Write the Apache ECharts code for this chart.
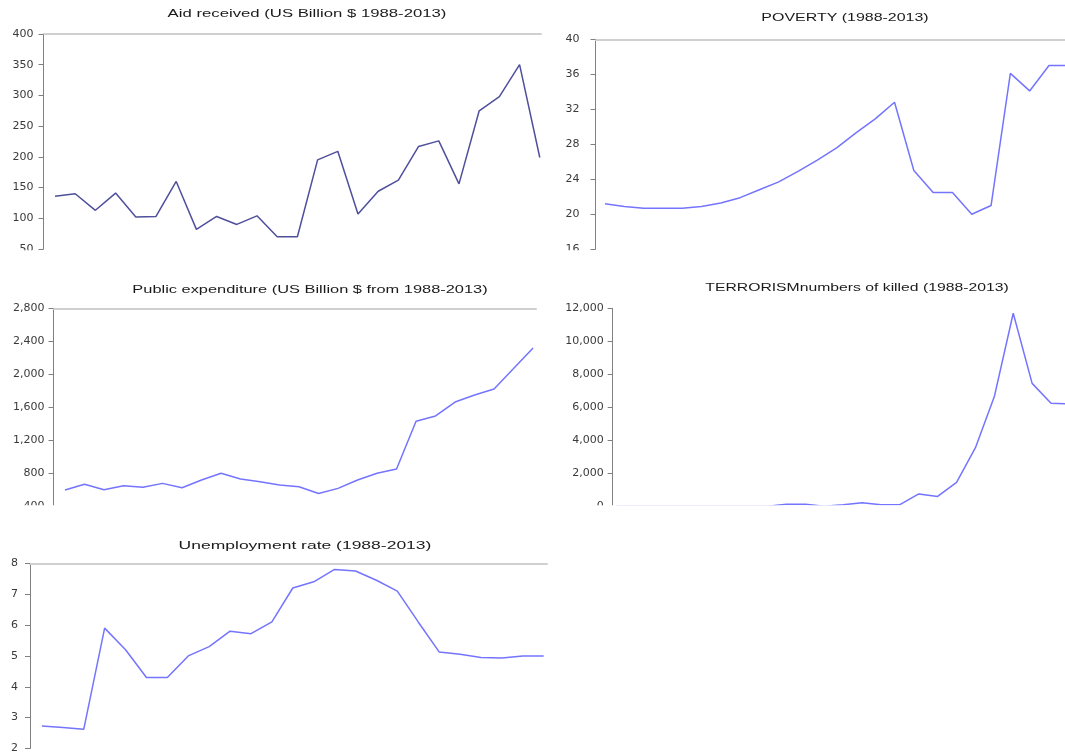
<!DOCTYPE html>
<html><head><meta charset="utf-8">
<script src="https://cdn.jsdelivr.net/npm/echarts@6/dist/echarts.min.js"></script>
<style>html,body{margin:0;padding:0;background:#fff}#c{width:1065px;height:754px}</style>
</head><body><div id="c"></div>
<script>
// ---- data ----
const years = [1988,1989,1990,1991,1992,1993,1994,1995,1996,1997,1998,1999,2000,2001,2002,2003,2004,2005,2006,2007,2008,2009,2010,2011,2012,2013];
const aidReceived = [136,140,113,141,102,103,160,82,103,90,104,70,70,195,209,107,144,162,217,226,156,275,298,350,199,null];
const poverty = [21.2,20.9,20.7,20.7,20.7,20.9,21.3,21.9,22.8,23.7,24.9,26.2,27.6,29.3,30.9,32.8,25.0,22.5,22.5,20.0,21.0,36.1,34.1,37.0,37.0,null];
const publicExpenditure = [598,668,600,650,630,678,625,719,800,731,698,658,637,556,617,719,800,853,1430,1495,1664,1750,1822,2070,2320,null];
const terrorismKilled = [0,0,0,0,0,0,0,0,0,120,120,0,100,220,100,100,750,600,1450,3550,6650,11700,7450,6250,6200,null];
const unemploymentRate = [2.73,2.68,2.62,5.9,5.2,4.3,4.3,5.0,5.3,5.8,5.72,6.1,7.2,7.4,7.8,7.75,7.45,7.1,6.1,5.13,5.05,4.95,4.93,5.0,5.0,null];
const titles = [
  'Aid received (US Billion $ 1988-2013)',
  'POVERTY (1988-2013)',
  'Public expenditure (US Billion $ from 1988-2013)',
  'TERRORISMnumbers of killed (1988-2013)',
  'Unemployment rate (1988-2013)'
];
const yScales = [
  {min:50, max:400, interval:50},
  {min:16, max:40, interval:4},
  {min:400, max:2800, interval:400},
  {min:0, max:12000, interval:2000},
  {min:2, max:8, interval:1}
];
const seriesData = [aidReceived, poverty, publicExpenditure, terrorismKilled, unemploymentRate];

// ---- layout (pixels) ----
const layout = [
  {cx:307, cy:14,  sx:1.52, left:43.5, top:34,    right:541,  bottom:249,   xmin:1987.43, xmax:2012.06, margin:10, color:'#4f4f9c'},
  {cx:845, cy:18,  sx:1.45, left:595.5,top:39.3,  right:1065, bottom:249.3, xmin:1987.51, xmax:2011.83, margin:16, color:'#7474ff'},
  {cx:310, cy:290, sx:1.49, left:53.5, top:308.3, right:536,  bottom:506.3, xmin:1987.41, xmax:2012.15, margin:9,  color:'#7474ff'},
  {cx:857, cy:288, sx:1.43, left:612.7,top:308.3, right:1065, bottom:506.3, xmin:1987.80, xmax:2011.74, margin:9,  color:'#7474ff'},
  {cx:305, cy:546, sx:1.59, left:30,   top:563.3, right:547,  bottom:757.7, xmin:1987.43, xmax:2012.16, margin:12, color:'#7474ff'}
];
const TITLE_FONT = '"Liberation Sans", Arial, sans-serif';
const LABEL_FONT = '"DejaVu Sans", sans-serif';

const titleTexts = layout.map((p,i)=>({
  type:'text', x:p.cx, y:p.cy, scaleX:p.sx, z:120,
  style:{text:titles[i], fill:'#1a1a1a', font:'11px ' + TITLE_FONT, textAlign:'center', textVerticalAlign:'middle'}
}));

const option = {
  animation:false,
  backgroundColor:'#fff',
  grid: layout.map(p=>({left:p.left, top:p.top, width:p.right-p.left, height:p.bottom-p.top, containLabel:false})),
  xAxis: layout.map((p,i)=>({
    gridIndex:i, type:'value', min:p.xmin, max:p.xmax, position:'top',
    axisLine:{show:true, lineStyle:{color:'#d0d0d0', width:2}},
    axisTick:{show:false}, axisLabel:{show:false}, splitLine:{show:false}
  })),
  yAxis: layout.map((p,i)=>({
    gridIndex:i, type:'value', min:yScales[i].min, max:yScales[i].max, interval:yScales[i].interval,
    axisLine:{show:true, lineStyle:{color:'#808080', width:1}},
    axisTick:{show:true, length:5, lineStyle:{color:'#808080'}},
    axisLabel:{margin:p.margin, fontSize:11, color:'#3a3a3a', fontFamily:LABEL_FONT},
    splitLine:{show:false}
  })),
  series: layout.map((p,i)=>({
    type:'line', xAxisIndex:i, yAxisIndex:i, symbol:'none', clip:true,
    data: years.map((y,k)=>[y, seriesData[i][k]]),
    lineStyle:{width:1.5, color:p.color}
  })),
  graphic:[
    {type:'rect', z:100, shape:{x:0, y:250.3, width:1065, height:29}, style:{fill:'#fff'}},
    {type:'rect', z:100, shape:{x:0, y:505.2, width:1065, height:31}, style:{fill:'#fff'}}
  ].concat(titleTexts)
};
const chart = echarts.init(document.getElementById('c'), null, {renderer:'canvas'});
chart.setOption(option);
</script>
</body></html>
